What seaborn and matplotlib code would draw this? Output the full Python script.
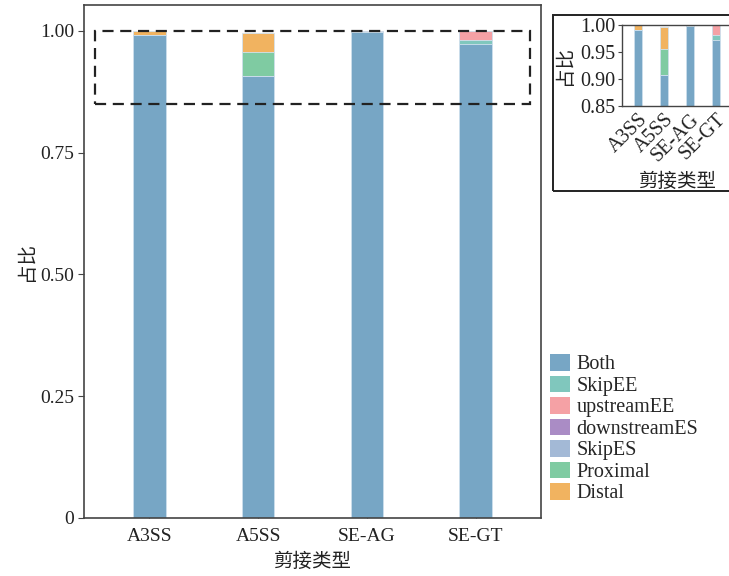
import numpy as np
import pandas as pd
import seaborn as sns
import matplotlib
matplotlib.use("Agg")
import matplotlib.pyplot as plt
from matplotlib.patches import Rectangle, Patch

categories = ["A3SS", "A5SS", "SE-AG", "SE-GT"]
layers = ["Both", "SkipEE", "upstreamEE", "downstreamES", "SkipES", "Proximal", "Distal"]
Both = [0.991, 0.908, 0.9985, 0.973]
SkipEE = [0.0, 0.0, 0.0, 0.009]
upstreamEE = [0.0, 0.0, 0.0008, 0.018]
downstreamES = [0.0, 0.0, 0.0007, 0.0]
SkipES = [0.0, 0.0, 0.0, 0.0]
Proximal = [0.0, 0.048, 0.0, 0.0]
Distal = [0.009, 0.040, 0.0, 0.0]
colors = ["#77a6c5", "#80c7bd", "#f5a1a5", "#aa8cc5", "#a3b9d6", "#7fcba2", "#f1b360"]

values = {"Both": Both, "SkipEE": SkipEE, "upstreamEE": upstreamEE,
          "downstreamES": downstreamES, "SkipES": SkipES,
          "Proximal": Proximal, "Distal": Distal}
df = pd.DataFrame(values, index=categories)
cum = df.cumsum(axis=1)

sns.set_style("ticks")
plt.rcParams["font.family"] = ["Liberation Serif", "Noto Sans CJK SC"]
plt.rcParams["axes.unicode_minus"] = False

fig = plt.figure(figsize=(7.29, 5.76), dpi=100)
ax = fig.add_axes([84/729, 1-518/576, (541-84)/729, (518-5)/576])
axi = fig.add_axes([622/729, 1-106/576, 110/729, (106-25)/576])


def draw(a):
    for lay, col in reversed(list(zip(layers, colors))):
        d = pd.DataFrame({"cat": categories, "val": cum[lay].values})
        sns.barplot(data=d, x="cat", y="val", order=categories, color=col,
                    width=0.3, saturation=1, ax=a, linewidth=0.6,
                    edgecolor="#d2e2ee")


draw(ax)
ax.set_ylim(0, 1.053)
ax.set_xlim(-0.6, 3.6)
ax.set_yticks([0, 0.25, 0.5, 0.75, 1.0])
ax.set_yticklabels(["0", "0.25", "0.50", "0.75", "1.00"])
ax.tick_params(axis="y", labelsize=14, length=4, direction="out",
               colors="#444444", labelcolor="#222222", pad=3)
ax.tick_params(axis="x", labelsize=14, length=4, direction="in",
               colors="#444444", labelcolor="#222222", pad=7)
ax.set_xlabel("剪接类型", fontsize=14, color="#222222", labelpad=6)
ax.set_ylabel("占比", fontsize=14, color="#222222", labelpad=3)
for s in ax.spines.values():
    s.set_visible(True)
    s.set_linewidth(1.2)
    s.set_color("#444444")
ax.add_patch(Rectangle((-0.5, 0.85), 4.0, 0.15, fill=False, edgecolor="#222222",
                       linewidth=1.6, linestyle=(0, (5, 3)), zorder=5))

draw(axi)
axi.set_ylim(0.85, 1.0)
axi.set_xlim(-0.6, 3.6)
axi.set_yticks([0.85, 0.90, 0.95, 1.00])
axi.set_yticklabels(["0.85", "0.90", "0.95", "1.00"])
axi.tick_params(axis="y", labelsize=14.5, length=3, colors="#444444",
                labelcolor="#222222", pad=2)
axi.tick_params(axis="x", labelsize=14.5, length=3, direction="in",
                colors="#444444", labelcolor="#222222", pad=3)
plt.setp(axi.get_xticklabels(), rotation=45, ha="right", rotation_mode="anchor")
axi.set_xlabel("剪接类型", fontsize=14, color="#222222", labelpad=5)
axi.set_ylabel("占比", fontsize=14, color="#222222", labelpad=4)
for s in axi.spines.values():
    s.set_visible(True)
    s.set_linewidth(1.0)
    s.set_color("#444444")

fig.patches.append(Rectangle((553/729, 1-191/576), 0.3, 176/576, transform=fig.transFigure,
                             fill=False, edgecolor="#222222", linewidth=1.4))

handles = [Patch(facecolor=c, edgecolor="none") for c in colors]
fig.legend(handles, layers, loc="upper left", bbox_to_anchor=(550/729, 1-354/576),
           frameon=False, fontsize=14.5, labelspacing=0.06, handlelength=1.0,
           handleheight=0.9, handletextpad=0.3, borderaxespad=0, borderpad=0)

fig.savefig("out.png", dpi=100)
